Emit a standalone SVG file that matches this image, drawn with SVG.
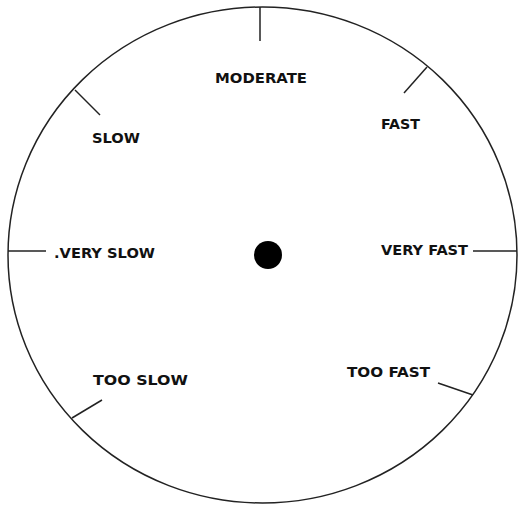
<svg xmlns="http://www.w3.org/2000/svg" width="521" height="506" viewBox="0 0 521 506">
<style>
.rim{fill:#fff;stroke:#222;stroke-width:1.5}
.tick{stroke:#222;stroke-width:1.5;fill:none}
.lbl{font-family:"DejaVu Sans","Liberation Sans",sans-serif;font-weight:bold;font-size:14px;fill:#111}
</style>
<rect width="521" height="506" fill="#fff"/>
<g id="dial">
<ellipse class="rim" cx="262.5" cy="255" rx="254.5" ry="248"/>
<circle cx="268" cy="255" r="14" fill="#000"/>
</g>
<g id="ticks">
<line class="tick" x1="260" y1="7" x2="260" y2="41"/>
<line class="tick" x1="427" y1="67" x2="404" y2="93"/>
<line class="tick" x1="8" y1="251" x2="46" y2="251"/>
<line class="tick" x1="473" y1="251" x2="517" y2="251"/>
<line class="tick" x1="75" y1="90" x2="100" y2="115"/>
<line class="tick" x1="102" y1="400" x2="72" y2="418"/>
<line class="tick" x1="438" y1="383" x2="473" y2="395"/>
</g>
<g id="labels">
<text class="lbl" x="215" y="83" textLength="92" lengthAdjust="spacingAndGlyphs">MODERATE</text>
<text class="lbl" x="381" y="129" textLength="39" lengthAdjust="spacingAndGlyphs">FAST</text>
<text class="lbl" x="92" y="143" textLength="48" lengthAdjust="spacingAndGlyphs">SLOW</text>
<text class="lbl" x="54" y="258" textLength="101" lengthAdjust="spacingAndGlyphs">.VERY SLOW</text>
<text class="lbl" x="381" y="255" textLength="87" lengthAdjust="spacingAndGlyphs">VERY FAST</text>
<text class="lbl" x="93" y="385" textLength="95" lengthAdjust="spacingAndGlyphs">TOO SLOW</text>
<text class="lbl" x="347" y="377" textLength="83" lengthAdjust="spacingAndGlyphs">TOO FAST</text>
</g>
</svg>
